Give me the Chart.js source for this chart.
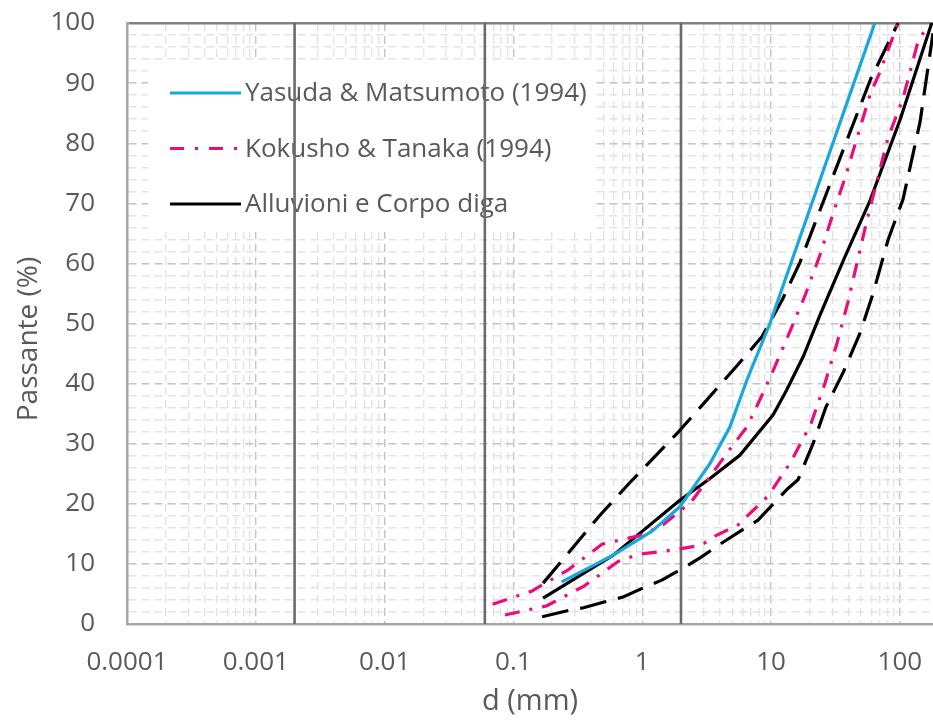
<!DOCTYPE html>
<html>
<head>
<meta charset="utf-8">
<script src="https://cdn.jsdelivr.net/npm/chart.js@4/dist/chart.umd.min.js"></script>
<style>
  html, body { margin: 0; padding: 0; background: #ffffff; }
  #wrap { width: 933px; height: 720px; }
</style>
</head>
<body>
<div id="wrap"><canvas id="chart" width="933" height="720"></canvas></div>
<script>
// Grain size distribution (curve granulometriche): diameter d in mm, passing percentage
const xDecades = [0.0001, 0.001, 0.01, 0.1, 1, 10, 100];
const xTickLabels = ['0.0001', '0.001', '0.01', '0.1', '1', '10', '100'];
const yMajorTicks = [0, 10, 20, 30, 40, 50, 60, 70, 80, 90, 100];

// Yasuda & Matsumoto (1994)
const yasudaD = [0.237, 0.6, 1.2, 1.96, 3.36, 4.8, 6.5, 9.8, 64];
const yasudaP = [7.0, 11.5, 15.5, 19.5, 26.7, 32.8, 40.6, 50.0, 100];

// Kokusho & Tanaka (1994) - fine and coarse bounds
const kokushoFineD = [0.069, 0.14, 0.27, 0.49, 1.0, 1.45, 2.4, 3.95, 4.95, 6.5, 8.7, 10.2, 13.8, 18.4, 24, 30, 38.2, 47.3, 59.4, 69, 97];
const kokushoFineP = [3.3, 5.5, 9.1, 13.3, 14.8, 16.5, 20.3, 26.6, 29.5, 32.8, 38.5, 41.8, 48.3, 54.7, 61.4, 68.0, 74.7, 81.4, 88.4, 91.5, 100];
const kokushoCoarseD = [0.086, 0.18, 0.353, 0.65, 0.93, 1.36, 1.96, 2.86, 3.74, 5.55, 9.5, 14.3, 20.4, 26.1, 32.6, 39.6, 47, 55.6, 81, 106, 136, 166];
const kokushoCoarseP = [1.5, 3.0, 6.3, 10.4, 11.6, 12.0, 12.5, 13.1, 14.7, 16.5, 21.3, 27.0, 33.3, 39.9, 46.8, 53.6, 60.5, 67.2, 80.9, 87.5, 96.3, 100];

// Alluvioni e Corpo diga - mean curve and envelope
const alluvioniD = [0.17, 0.6, 1.96, 3.36, 5.74, 10.4, 13.2, 17.8, 24, 36.6, 58.8, 100.5, 177];
const alluvioniP = [4.3, 11.5, 20.6, 24.2, 28.1, 34.8, 38.9, 44.5, 51.4, 60.6, 70.5, 83.9, 100];
const envelopeFineD = [0.17, 0.47, 0.8, 1.9, 3.18, 5.25, 8.5, 12.2, 16.8, 35.6, 59.7, 97];
const envelopeFineP = [6.8, 18.1, 23.5, 31.9, 37.3, 42.6, 47.8, 53.9, 60.2, 78.4, 90.8, 100];
const envelopeCoarseD = [0.167, 0.275, 0.35, 0.514, 0.71, 1.15, 1.42, 2.27, 2.81, 4.24, 7.93, 13.6, 16.2, 21.2, 26.7, 36.2, 49.1, 62, 81, 106, 143.5, 181, 186];
const envelopeCoarseP = [1.2, 2.3, 2.7, 3.7, 4.5, 6.5, 7.3, 9.8, 11.0, 13.6, 17.3, 22.6, 24.0, 30.0, 36.1, 41.8, 48.4, 55.0, 63.9, 70.7, 83.5, 98.3, 100];

// Class boundaries: clay / silt / sand / gravel (mm)
const boundaryD = [0.002, 0.06, 2];

const FONT = '"Open Sans", "Noto Sans", sans-serif';
const TEXT = '#595959';
const CYAN = '#17a8dc';
const PINK = '#ec0c7d';
const BLACK = '#000000';
const BOUNDARY = '#6b6b6b';
const X_MAX = 181;
const Y_TITLE = 'Passante (%)';

const pts = (d, p) => d.map((v, i) => ({ x: v, y: p[i] }));
const isDecade = v => Math.abs(Math.log10(v) - Math.round(Math.log10(v))) < 1e-6;

// tick positions: every integer multiple inside each decade
const xTickValues = [];
xDecades.forEach(dec => {
  for (let m = 1; m <= 9; m++) {
    const v = m * dec;
    if (v <= X_MAX) xTickValues.push(v);
  }
});

const series = (label, d, p, color, dash, inLegend) => ({
  label, data: pts(d, p), borderColor: color, backgroundColor: color,
  borderWidth: 3.2, borderDash: dash, borderCapStyle: 'butt', borderJoinStyle: 'round',
  pointRadius: 0, tension: 0, fill: false, inLegend
});

const DASH_DOT = [15, 10, 3, 10];
const LONG_DASH = [27, 12];

const datasets = [
  series('Yasuda & Matsumoto (1994)', yasudaD, yasudaP, CYAN, [], true),
  series('Kokusho & Tanaka (1994)', kokushoFineD, kokushoFineP, PINK, DASH_DOT, true),
  series('Kokusho & Tanaka (1994) ', kokushoCoarseD, kokushoCoarseP, PINK, DASH_DOT, false),
  series('Alluvioni e Corpo diga', alluvioniD, alluvioniP, BLACK, [], true),
  series('Fuso superiore', envelopeFineD, envelopeFineP, BLACK, LONG_DASH, false),
  series('Fuso inferiore', envelopeCoarseD, envelopeCoarseP, BLACK, LONG_DASH, false)
];
boundaryD.forEach(d => {
  datasets.push({
    label: 'limite ' + d, data: [{ x: d, y: 0 }, { x: d, y: 100 }],
    borderColor: BOUNDARY, borderWidth: 2.6, pointRadius: 0, tension: 0, inLegend: false
  });
});

// legend drawn inside the plot area on a white panel
const legendPanel = {
  id: 'legendPanel',
  beforeDatasetsDraw(chart) {
    const ctx = chart.ctx;
    ctx.save();
    ctx.fillStyle = '#ffffff';
    ctx.fillRect(148, 62, 444, 170);
    const items = chart.data.datasets.filter(ds => ds.inLegend);
    items.forEach((ds, i) => {
      const y = 93 + i * 55.5;
      ctx.strokeStyle = ds.borderColor;
      ctx.lineWidth = 3.2;
      ctx.lineCap = 'butt';
      ctx.setLineDash(ds.borderDash.length ? [14, 11, 3, 11] : []);
      ctx.beginPath();
      ctx.moveTo(170, y);
      ctx.lineTo(241, y);
      ctx.stroke();
      ctx.setLineDash([]);
      ctx.fillStyle = TEXT;
      ctx.font = '26px ' + FONT;
      ctx.textBaseline = 'middle';
      ctx.textAlign = 'left';
      ctx.fillText(ds.label.trim(), 245, y + 1);
    });
    ctx.restore();
  },
  // vertical axis title, centred on the label column
  afterDraw(chart) {
    const ctx = chart.ctx;
    ctx.save();
    ctx.translate(29, 339);
    ctx.rotate(-Math.PI / 2);
    ctx.fillStyle = TEXT;
    ctx.font = '28px ' + FONT;
    ctx.textAlign = 'center';
    ctx.textBaseline = 'middle';
    ctx.fillText(Y_TITLE, 0, 0);
    ctx.restore();
  }
};

new Chart(document.getElementById('chart'), {
  type: 'line',
  data: { datasets },
  options: {
    responsive: false,
    devicePixelRatio: 1,
    animation: false,
    layout: { padding: { top: 23, right: 0, left: 0, bottom: 0 } },
    plugins: { legend: { display: false }, tooltip: { enabled: false } },
    scales: {
      x: {
        type: 'logarithmic', position: 'bottom', min: 0.0001, max: X_MAX,
        afterBuildTicks: s => { s.ticks = xTickValues.map(v => ({ value: v, major: isDecade(v) })); },
        afterFit: s => { s.height = 96; s.paddingLeft = 0; s.paddingRight = 0; },
        ticks: {
          autoSkip: false, maxRotation: 0, minRotation: 0, padding: 23, color: TEXT,
          font: { family: FONT, size: 26 },
          callback: v => {
            const k = xDecades.findIndex(d => Math.abs(d - v) / d < 1e-6);
            return k >= 0 ? xTickLabels[k] : '';
          }
        },
        grid: {
          drawTicks: false,
          color: c => (c.tick && isDecade(c.tick.value)) ? '#c4c4c4' : '#e3e3e3',
          lineWidth: 1.4
        },
        border: { display: true, color: '#a6a6a6', width: 2.5, dash: c => c.tick ? [8, 5] : [] },
        title: { display: true, text: 'd (mm)', color: TEXT, font: { family: FONT, size: 29 }, padding: 1 }
      },
      y: {
        type: 'linear', min: 0, max: 100,
        afterFit: s => { s.width = 127; s.paddingTop = 0; s.paddingBottom = 0; },
        ticks: {
          stepSize: 2, autoSkip: false, padding: 32, color: TEXT,
          font: { family: FONT, size: 26 },
          callback: v => yMajorTicks.includes(v) ? String(v) : ''
        },
        grid: {
          drawTicks: false,
          color: c => {
            if (!c.tick) return '#e3e3e3';
            if (c.tick.value === 100) return '#808080';
            return c.tick.value % 10 === 0 ? '#c4c4c4' : '#e3e3e3';
          },
          lineWidth: c => (c.tick && c.tick.value === 100) ? 2.5 : 1.4
        },
        border: {
          display: true, color: '#a6a6a6', width: 2.5,
          dash: c => (c.tick && c.tick.value !== 100) ? [8, 5] : []
        },
        title: { display: false }
      }
    }
  },
  plugins: [legendPanel]
});
</script>
</body>
</html>
